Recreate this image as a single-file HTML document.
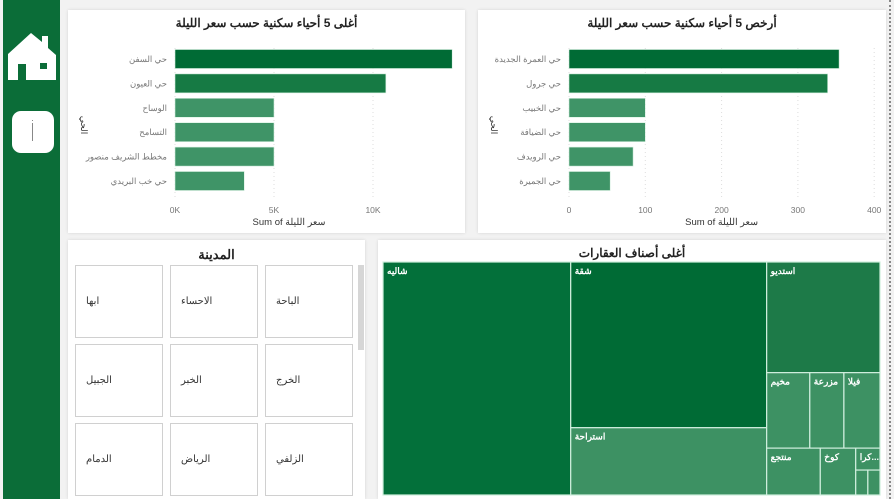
<!DOCTYPE html>
<html><head><meta charset="utf-8">
<style>
body{margin:0;width:894px;height:499px;overflow:hidden;background:#f2f2f2;font-family:"Liberation Sans","Noto Sans CJK SC",sans-serif;position:relative}
.card{position:absolute;background:#fff;box-shadow:0 0 3px rgba(0,0,0,.12)}
.abs{position:absolute}
.city{position:absolute;width:88px;height:70px;border:1px solid #d0d0d0;background:#fff;font-size:10px;color:#333;box-sizing:border-box}
.city span{position:absolute;left:10px;top:30px}
</style></head><body>
<div class="abs" style="left:3px;top:0;width:57px;height:499px;background:#0b6d38"></div>
<svg class="abs" style="left:8px;top:30px" width="50" height="52" viewBox="0 0 50 52">
<polygon points="0,24 23,3 34,12 34,6 40,6 40,18 48,25 48,50 0,50" fill="#fff"/>
<rect x="10" y="34" width="8" height="16" fill="#0b6d38"/><rect x="32" y="33" width="7" height="6" fill="#0b6d38"/>
</svg>
<div class="abs" style="left:12px;top:111px;width:42px;height:42px;background:#fff;border-radius:9px"><div style="position:absolute;left:20px;top:12px;width:1px;height:18px;background:#888"></div><div style="position:absolute;left:20px;top:9px;width:1px;height:1px;background:#888"></div></div>
<div class="abs" style="left:889px;top:0;width:0;height:499px;border-left:2px dotted #888"></div>

<div class="card" style="left:68px;top:10px;width:397px;height:223px"><svg id="c1" width="397" height="223"></svg></div>
<div class="card" style="left:478px;top:10px;width:408px;height:223px"><svg id="c2" width="408" height="223"></svg></div>

<div class="card" style="left:68px;top:240px;width:297px;height:259px">
<div class="abs" style="left:0;width:297px;top:7px;text-align:center;font-size:13px;font-weight:bold;color:#222">المدينة</div>
<div class="abs" style="left:290px;top:25px;width:6px;height:85px;background:#d6d6d6"></div>
<div id="cities"></div>
</div>

<div class="card" style="left:378px;top:240px;width:508px;height:259px">
<div class="abs" style="left:0;width:508px;top:6px;text-align:center;font-size:12px;font-weight:bold;color:#222">أغلى أصناف العقارات</div>
<svg id="tm" class="abs" style="left:0;top:0" width="508" height="259"></svg>
</div>

<script>
const NS="http://www.w3.org/2000/svg";
function el(p,t,a){const e=document.createElementNS(NS,t);for(const k in a)e.setAttribute(k,a[k]);p.appendChild(e);return e;}

// Chart 1 data
const c1Cats=["حي السفن","حي العيون","الوساح","التسامح","مخطط الشريف منصور","حي خب البريدي"];
const c1Vals=[14000,10650,5000,5000,5000,3500];
const c1Ticks=[0,5000,10000];
const c1TickLabels=["0K","5K","10K"];
// Chart 2 data
const c2Cats=["حي العمرة الجديدة","حي جرول","حي الخبيب","حي الضيافة","حي الرويدف","حي الجميرة"];
const c2Vals=[354,339,100,100,84,54];
const c2Ticks=[0,100,200,300,400];
const c2TickLabels=["0","100","200","300","400"];

function bar(svgId,title,cats,vals,ticks,labels,x0,pxPer){
  const s=document.getElementById(svgId);
  const x=v=>x0+v*pxPer;
  const t=el(s,"text",{x:+s.getAttribute("width")/2,y:17,"text-anchor":"middle","font-size":"12","font-weight":"bold",fill:"#222"});t.textContent=title;
  
  
  ticks.forEach((v,i)=>{
    const g=el(s,"line",{x1:x(v),x2:x(v),y1:38,y2:188,stroke:"#ddd","stroke-dasharray":"1,3"});
    
    
    const tl=el(s,"text",{x:x(v),y:203,"text-anchor":"middle","font-size":"8.5",fill:"#777"});tl.textContent=labels[i];
    
    
  });
  const cols=["#006b35","#167a44"];
  cats.forEach((c,i)=>{
    const cy=49+i*24.4;
    const r=el(s,"rect",{x:x(0),y:cy-9.5,width:x(vals[i])-x(0),height:19,fill:cols[i]||"#3f9467",stroke:"#d6efe0","stroke-width":"0.6"});
    
    
    const l=el(s,"text",{x:x0-8,y:cy+3,"text-anchor":"end","font-size":"8.5",fill:"#777"});l.textContent=c;
    
    
  });
  const xt=el(s,"text",{x:x(ticks[ticks.length-1]/2)+(svgId=="c1"?15:0),y:215,"text-anchor":"middle","font-size":"9.5",fill:"#333"});xt.textContent="Sum of سعر الليلة";
  
  
  const yt=el(s,"text",{x:13,y:115,"font-size":"9",fill:"#333",transform:"rotate(90 13 115)","text-anchor":"middle"});yt.textContent="الحي";
  
  
}
bar("c1","أغلى 5 أحياء سكنية حسب سعر الليلة",c1Cats,c1Vals,c1Ticks,c1TickLabels,107,99/5000);
bar("c2","أرخص 5 أحياء سكنية حسب سعر الليلة",c2Cats,c2Vals,c2Ticks,c2TickLabels,91,0.763);

// City slicer
const cities=["الباحة","الاحساء","ابها","الخرج","الخبر","الجبيل","الزلفي","الرياض","الدمام"];
const cc=document.getElementById("cities");
cities.forEach((c,i)=>{
  const d=document.createElement("div");d.className="city";
  
  
  const col=i%3,row=Math.floor(i/3);
  d.style.left=(197-col*95)+"px";d.style.top=(25+row*79)+"px";d.style.height="73px";
  d.innerHTML="<span>"+c+"</span>";cc.appendChild(d);
});

// Treemap data
const tmNames=["شاليه","شقة","استراحة","استديو","مخيم","مزرعة","فيلا","منتجع","كوخ","كرا...","أخرى1","أخرى2"];
const tmVals=[43338,32175,13065,12426,3225,2550,2700,2491,1645,528,300,300];
const tmColors=["#03703a","#006b35","#3d9163","#1d7a48","#3d9163","#3d9163","#3d9163","#3d9163","#3d9163","#3d9163","#3d9163","#3d9163"];
const tree={d:"h",c:[0,{d:"v",c:[1,2]},{d:"v",c:[3,{d:"h",c:[4,5,6]},{d:"h",c:[7,8,{d:"v",c:[9,{d:"h",c:[10,11]}]}]}]}]};
function sum(n){return typeof n==="number"?tmVals[n]:n.c.reduce((a,b)=>a+sum(b),0);}
const tm=document.getElementById("tm");
function lay(n,x,y,w,h){
  if(typeof n==="number"){
    const r=el(tm,"rect",{x:x,y:y,width:w,height:h,fill:tmColors[n],stroke:"#cfeedd","stroke-width":"1.2"});
    
    
    if(n<10){const t=el(tm,"text",{x:x+4,y:y+12,"text-anchor":"start",direction:"ltr","font-size":"9","font-weight":"bold",fill:"#fff"});t.textContent=tmNames[n];
    
    }
    return;}
  const tot=sum(n);let o=0;
  n.c.forEach(ch=>{const f=sum(ch)/tot;
    if(n.d==="h"){lay(ch,x+o,y,w*f,h);o+=w*f;}else{lay(ch,x,y+o,w,h*f);o+=h*f;}});
}
lay(tree,5,22,497,233);
</script>
</body></html>
